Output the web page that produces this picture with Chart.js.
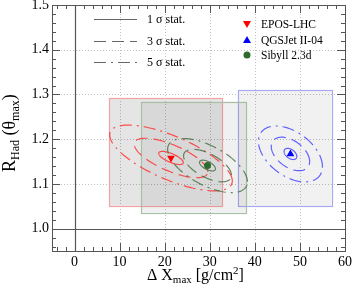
<!DOCTYPE html>
<html>
<head>
<meta charset="utf-8">
<script src="https://cdn.jsdelivr.net/npm/chart.js@4.4.1/dist/chart.umd.min.js"></script>
<style>
  html, body { margin: 0; padding: 0; background: #fff; }
  canvas { display: block; }
</style>
</head>
<body>
<canvas id="chart" width="353" height="291"></canvas>
<script>
// モデル別の結果 (中心値, 系統誤差の箱, 統計誤差の楕円)
const models = ['EPOS-LHC', 'QGSJet II-04', 'Sibyll 2.3d'];
const deltaXmax = [21.4, 47.9, 29.5];
const rHad = [1.158, 1.167, 1.141];

// 系統誤差の範囲
const sysXLow = [7.7, 36.2, 14.8];
const sysXHigh = [32.7, 57.0, 38.2];
const sysYLow = [1.051, 1.050, 1.036];
const sysYHigh = [1.292, 1.310, 1.284];

// 統計誤差 (1σ) と相関
const statX = [2.72, 1.42, 1.77];
const statY = [0.0147, 0.0125, 0.0121];
const statRho = [-0.7, -0.45, -0.6];
const sigmaLevels = [1, 3, 5];
const sigmaLabels = ['1 σ stat.', '3 σ stat.', '5 σ stat.'];

// 軸目盛
const xTicks = [0, 10, 20, 30, 40, 50, 60];
const yTicks = [1.0, 1.1, 1.2, 1.3, 1.4, 1.5];

const markerColors = ['#ff0000', '#0000ff', '#2f6a2f'];
const lineColors = ['rgba(255,50,50,0.85)', 'rgba(70,70,255,0.85)', 'rgba(70,115,70,0.85)'];
const boxBorders = ['#f4a3a3', '#a8a8f4', '#a9bea9'];
const boxFills = ['rgba(0,0,0,0.10)', 'rgba(0,0,0,0.055)', 'rgba(0,0,0,0.06)'];
const sigmaDash = [[], [12, 6], [12, 5, 2, 5]];
const SERIF = '"Liberation Serif", "DejaVu Serif", serif';

function drawParts(ctx, parts, x, y) {
  // 添字付きテキストを左から順に描く
  let cx = x;
  parts.forEach(p => {
    ctx.font = p.size + 'px ' + SERIF;
    ctx.fillText(p.t, cx, y + (p.dy || 0));
    cx += ctx.measureText(p.t).width;
  });
  return cx;
}

const rootStyle = {
  id: 'rootStyle',
  beforeDatasetsDraw(chart) {
    const ctx = chart.ctx;
    const xs = chart.scales.x, ys = chart.scales.y;
    const a = chart.chartArea;
    ctx.save();

    // グリッド
    ctx.strokeStyle = '#c0c0c0';
    ctx.lineWidth = 1;
    ctx.setLineDash([1, 2]);
    xTicks.forEach(v => {
      if (v === 0 || v === 60) return;
      const px = Math.round(xs.getPixelForValue(v)) + 0.5;
      ctx.beginPath(); ctx.moveTo(px, a.top); ctx.lineTo(px, a.bottom); ctx.stroke();
    });
    yTicks.forEach(v => {
      if (v === 1.0 || v === 1.5) return;
      const py = Math.round(ys.getPixelForValue(v)) + 0.5;
      ctx.beginPath(); ctx.moveTo(a.left, py); ctx.lineTo(a.right, py); ctx.stroke();
    });
    ctx.setLineDash([]);

    // 基準線
    ctx.strokeStyle = '#555';
    ctx.lineWidth = 1.2;
    const x0 = Math.round(xs.getPixelForValue(0)) + 0.5;
    ctx.beginPath(); ctx.moveTo(x0, a.top); ctx.lineTo(x0, a.bottom); ctx.stroke();
    const y1 = Math.round(ys.getPixelForValue(1.0)) + 0.5;
    ctx.beginPath(); ctx.moveTo(a.left, y1); ctx.lineTo(a.right, y1); ctx.stroke();

    // 系統誤差の箱
    models.forEach((m, i) => {
      const l = xs.getPixelForValue(sysXLow[i]);
      const r = xs.getPixelForValue(sysXHigh[i]);
      const t = ys.getPixelForValue(sysYHigh[i]);
      const b = ys.getPixelForValue(sysYLow[i]);
      ctx.fillStyle = boxFills[i];
      ctx.fillRect(l, t, r - l, b - t);
      ctx.strokeStyle = boxBorders[i];
      ctx.lineWidth = 1.2;
      ctx.strokeRect(Math.round(l) + 0.5, Math.round(t) + 0.5, Math.round(r - l), Math.round(b - t));
    });

    // 統計誤差の楕円
    models.forEach((m, i) => {
      sigmaLevels.forEach((k, j) => {
        ctx.beginPath();
        const n = 160;
        const s = Math.sqrt(1 - statRho[i] * statRho[i]);
        for (let p = 0; p <= n; p++) {
          const th = p / n * Math.PI * 2;
          const vx = deltaXmax[i] + k * statX[i] * Math.cos(th);
          const vy = rHad[i] + k * statY[i] * (statRho[i] * Math.cos(th) + s * Math.sin(th));
          const px = xs.getPixelForValue(vx), py = ys.getPixelForValue(vy);
          if (p === 0) ctx.moveTo(px, py); else ctx.lineTo(px, py);
        }
        ctx.strokeStyle = lineColors[i];
        ctx.lineWidth = 1.2;
        ctx.setLineDash(sigmaDash[j]);
        ctx.stroke();
      });
    });
    ctx.restore();
  },
  afterDatasetsDraw(chart) {
    const ctx = chart.ctx;
    const xs = chart.scales.x, ys = chart.scales.y;
    const a = chart.chartArea;
    ctx.save();

    // 枠と目盛
    ctx.strokeStyle = '#555';
    ctx.lineWidth = 1;
    ctx.strokeRect(Math.round(a.left) + 0.5, Math.round(a.top) + 0.5,
      Math.round(a.right - a.left), Math.round(a.bottom - a.top));
    ctx.beginPath();
    for (let v = -4; v < 60; v += 2) {
      const px = Math.round(xs.getPixelForValue(v)) + 0.5;
      const len = v % 10 === 0 ? 8 : 4;
      ctx.moveTo(px, a.bottom); ctx.lineTo(px, a.bottom - len);
      ctx.moveTo(px, a.top); ctx.lineTo(px, a.top + len);
    }
    for (let q = 48; q < 75; q++) {
      const v = q / 50;
      const py = Math.round(ys.getPixelForValue(v)) + 0.5;
      const len = q % 5 === 0 ? 8 : 4;
      ctx.moveTo(a.left, py); ctx.lineTo(a.left + len, py);
      ctx.moveTo(a.right, py); ctx.lineTo(a.right - len, py);
    }
    ctx.stroke();

    // 目盛ラベル
    ctx.fillStyle = '#000';
    ctx.font = '14px ' + SERIF;
    ctx.textAlign = 'center';
    ctx.textBaseline = 'middle';
    xTicks.forEach(v => {
      ctx.fillText(String(v), xs.getPixelForValue(v), a.bottom + 11);
    });
    ctx.textAlign = 'right';
    yTicks.forEach(v => {
      ctx.fillText(v.toFixed(1), a.left - 3, ys.getPixelForValue(v));
    });

    // 軸タイトル
    ctx.textAlign = 'left';
    ctx.textBaseline = 'alphabetic';
    drawParts(ctx, [
      { t: 'Δ X', size: 16 },
      { t: 'max', size: 11, dy: 3 },
      { t: ' [g/cm', size: 16 },
      { t: '2', size: 11, dy: -6 },
      { t: ']', size: 16 }
    ], 147, 280);

    ctx.save();
    ctx.translate(15, 172);
    ctx.rotate(-Math.PI / 2);
    drawParts(ctx, [
      { t: 'R', size: 18 },
      { t: 'Had', size: 12, dy: 4 },
      { t: ' (θ', size: 18 },
      { t: 'max', size: 12, dy: 4 },
      { t: ')', size: 18 }
    ], 0, 0);
    ctx.restore();

    // 凡例 (統計誤差)
    sigmaLabels.forEach((lab, j) => {
      const y = [19, 41, 62][j] + 0.5;
      ctx.strokeStyle = '#666';
      ctx.lineWidth = 1.2;
      ctx.setLineDash(sigmaDash[j]);
      ctx.beginPath(); ctx.moveTo(94, y); ctx.lineTo(137, y); ctx.stroke();
      ctx.setLineDash([]);
      ctx.font = '12px ' + SERIF;
      ctx.textBaseline = 'middle';
      ctx.fillText(lab, 147, y);
    });

    // 凡例 (モデル)
    const legY = [24, 40, 55];
    models.forEach((m, i) => {
      const cx = 247, cy = legY[i];
      ctx.fillStyle = markerColors[i];
      ctx.beginPath();
      if (i === 0) {
        ctx.moveTo(cx - 4, cy - 3); ctx.lineTo(cx + 4, cy - 3); ctx.lineTo(cx, cy + 4);
      } else if (i === 1) {
        ctx.moveTo(cx - 4, cy + 3); ctx.lineTo(cx + 4, cy + 3); ctx.lineTo(cx, cy - 4);
      } else {
        ctx.arc(cx, cy, 3.5, 0, Math.PI * 2);
      }
      ctx.closePath();
      ctx.fill();
      ctx.fillStyle = '#000';
      ctx.font = '11.5px ' + SERIF;
      ctx.textBaseline = 'middle';
      ctx.fillText(m, 261, cy + 0.5);
    });
    ctx.restore();
  }
};

const datasets = models.map((m, i) => ({
  label: m,
  data: [{ x: deltaXmax[i], y: rHad[i] }],
  pointStyle: i === 2 ? 'circle' : 'triangle',
  rotation: i === 0 ? 180 : 0,
  pointRadius: i === 2 ? 3.5 : 4.5,
  backgroundColor: markerColors[i],
  borderColor: markerColors[i],
  borderWidth: 0
}));

new Chart(document.getElementById('chart').getContext('2d'), {
  type: 'scatter',
  data: { datasets },
  options: {
    responsive: false,
    animation: false,
    layout: { padding: { left: 52, top: 5, right: 8, bottom: 40 } },
    plugins: { legend: { display: false }, tooltip: { enabled: false } },
    scales: {
      x: { type: 'linear', min: -5, max: 60, display: false },
      y: { type: 'linear', min: 0.95, max: 1.5, display: false }
    }
  },
  plugins: [rootStyle]
});
</script>
</body>
</html>
